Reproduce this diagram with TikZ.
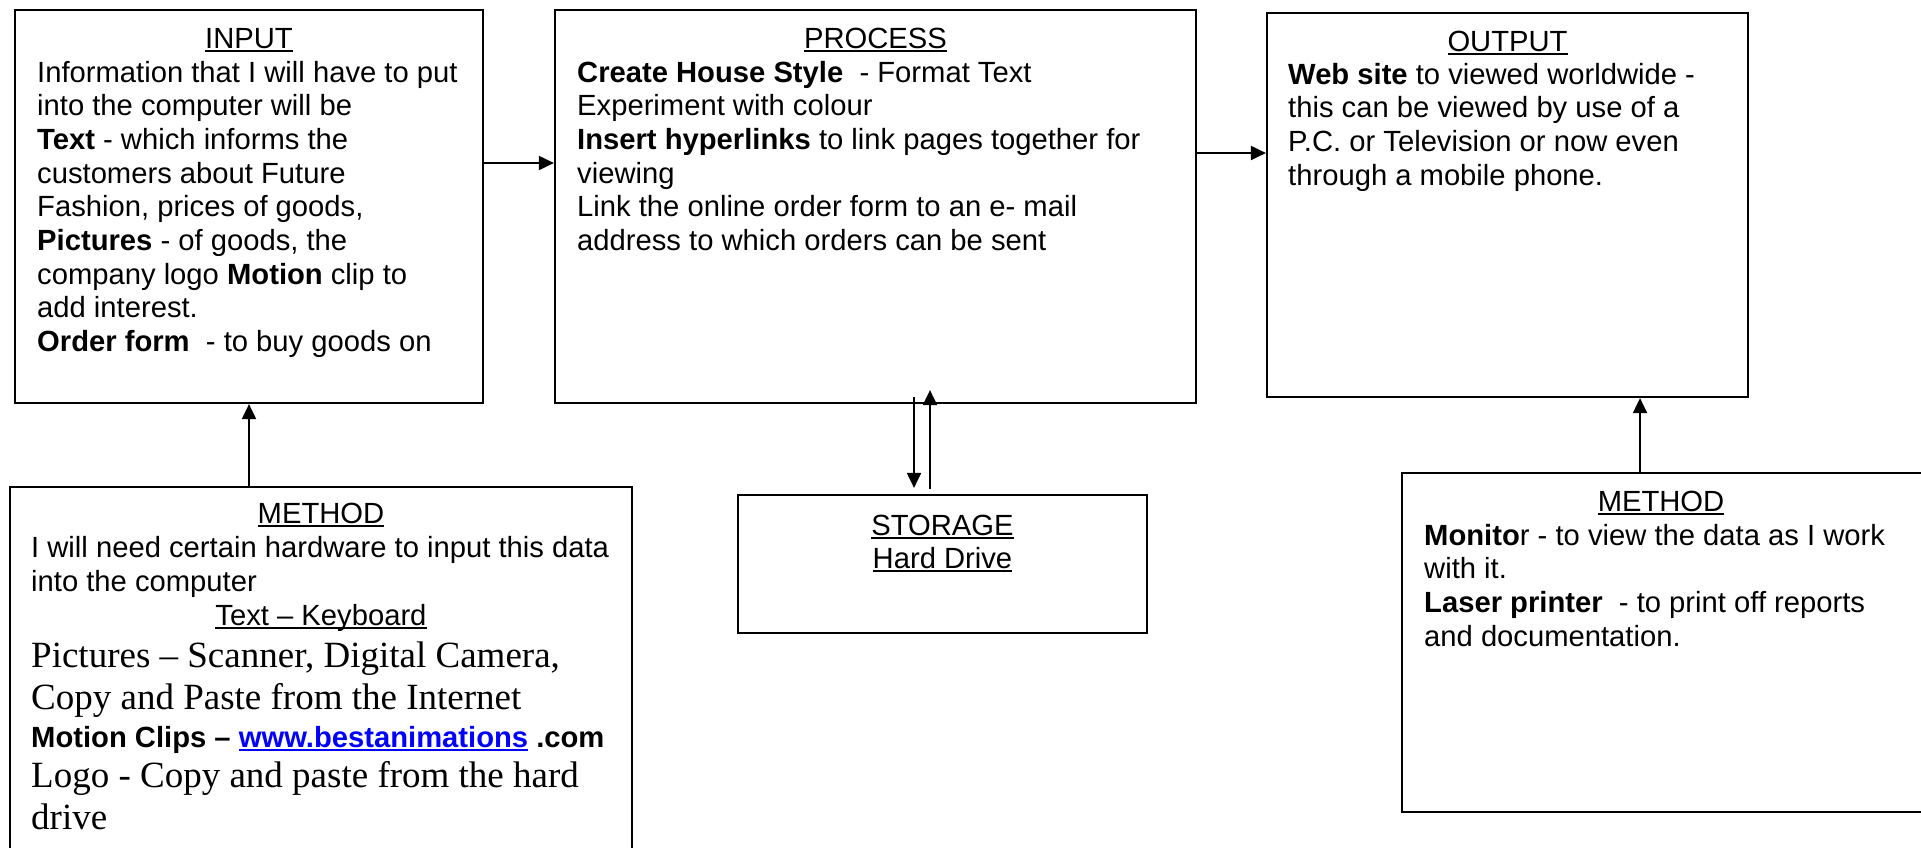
\documentclass[tikz,border=0pt]{standalone}
\usepackage{fontspec}
\usetikzlibrary{arrows.meta}
\newfontfamily\arl{Liberation Sans}
\newfontfamily\tnr{Liberation Serif}
\newcommand\myul[2][black]{\setbox0\hbox{#2}\rlap{\color{#1}\rule[-4.3pt]{\wd0}{2.1pt}}\box0}
\definecolor{linkblue}{RGB}{0,0,255}
\tikzset{
  box/.style={draw, line width=2.2pt, rectangle, inner sep=0pt},
  arr/.style={line width=2pt, -{Triangle[length=15pt,width=14pt]}},
  tl/.style={anchor=base west, inner sep=0pt, font=\arl\fontsize{29.2}{33.7}\selectfont},
  tc/.style={anchor=base, inner sep=0pt, font=\arl\fontsize{29.2}{33.7}\selectfont},
  sl/.style={anchor=base west, inner sep=0pt, font=\tnr\fontsize{37}{42}\selectfont},
}
\begin{document}
\begin{tikzpicture}[x=1pt,y=-1pt]
\useasboundingbox (0,0) rectangle (1921,847);
\clip (0,0) rectangle (1921,847);
\fill[white] (0,0) rectangle (1921,847);

% boxes
\node[box, minimum width=468, minimum height=393] (input) at (249,206.5) {};
\node[box, minimum width=641, minimum height=393] (process) at (875.5,206.5) {};
\node[box, minimum width=481, minimum height=384] (output) at (1507.5,205) {};
\node[box, minimum width=622, minimum height=383] (method1) at (321,678.5) {};
\node[box, minimum width=409, minimum height=138] (storage) at (942.5,564) {};
\node[box, minimum width=522, minimum height=339] (method2) at (1663,642.5) {};

% INPUT text
\node[tc] (ti) at (249,48) {\myul{INPUT}};
\node[tl] (i1) at (37,82) {Information that I will have to put};
\node[tl] (i2) at (37,115.7) {into the computer will be};
\node[tl] (i3) at (37,149.4) {\textbf{Text} - which informs the};
\node[tl] (i4) at (37,183.1) {customers about Future};
\node[tl] (i5) at (37,216.8) {Fashion, prices of goods,};
\node[tl] (i6) at (37,250.5) {\textbf{Pictures} - of goods, the};
\node[tl] (i7) at (37,284.2) {company logo \textbf{Motion} clip to};
\node[tl] (i8) at (37,317.9) {add interest.};
\node[tl] (i9) at (37,351.6) {\textbf{Order form}~~- to buy goods on};

% PROCESS text
\node[tc] (tp) at (875.5,48) {\myul{PROCESS}};
\node[tl] (p1) at (577,82) {\textbf{Create House Style}~~- Format Text};
\node[tl] (p2) at (577,115.7) {Experiment with colour};
\node[tl] (p3) at (577,149.4) {\textbf{Insert hyperlinks} to link pages together for};
\node[tl] (p4) at (577,183.1) {viewing};
\node[tl] (p5) at (577,216.8) {Link the online order form to an e- mail};
\node[tl] (p6) at (577,250.5) {address to which orders can be sent};

% OUTPUT text
\node[tc] (to) at (1507.5,51) {\myul{OUTPUT}};
\node[tl] (o1) at (1288,84) {\textbf{Web site} to viewed worldwide -};
\node[tl] (o2) at (1288,117.7) {this can be viewed by use of a};
\node[tl] (o3) at (1288,151.4) {P.C. or Television or now even};
\node[tl] (o4) at (1288,185.1) {through a mobile phone.};

% METHOD (left) text
\node[tc] (tm1) at (321,523) {\myul{METHOD}};
\node[tl] (m1) at (31,557) {I will need certain hardware to input this data};
\node[tl] (m2) at (31,591) {into the computer};
\node[tc] (m3) at (321,625) {\myul{Text – Keyboard}};
\node[sl] (m4) at (31,667) {Pictures – Scanner, Digital Camera,};
\node[sl] (m5) at (31,709) {Copy and Paste from the Internet};
\node[tl] (m6) at (31,747) {\textbf{Motion Clips – \textcolor{linkblue}{\myul[linkblue]{www.bestanimations}} .com}};
\node[sl] (m7) at (31,787) {Logo - Copy and paste from the hard};
\node[sl] (m8) at (31,829) {drive};

% STORAGE text
\node[tc] (ts) at (942.5,535) {\myul{STORAGE}};
\node[tc] (s1) at (942.5,568) {\myul{Hard Drive}};

% METHOD (right) text
\node[tc] (tm2) at (1661,511) {\myul{METHOD}};
\node[tl] (r1) at (1424,545) {\textbf{Monito}r - to view the data as I work};
\node[tl] (r2) at (1424,578.7) {with it.};
\node[tl] (r3) at (1424,612.4) {\textbf{Laser printer}~~- to print off reports};
\node[tl] (r4) at (1424,646.1) {and documentation.};

% connectors
\draw[arr] ([yshift=43.5pt]input.east) -- ([yshift=43.5pt]process.west);
\coordinate (p2o) at ([yshift=53.5pt]process.east);
\draw[arr] (p2o) -- (p2o -| output.west);
\draw[arr] (input.south |- method1.north) -- (input.south);
\coordinate (o2m) at ([xshift=132.5pt]output.south);
\draw[arr] (o2m |- method2.north) -- (o2m);
\coordinate (dn) at ([xshift=-28.5pt]storage.north);
\coordinate (upc) at ([xshift=-12.5pt]storage.north);
\draw[arr] ([yshift=7pt]dn |- process.south) -- ([yshift=6pt]dn);
\draw[arr] ([yshift=5pt]upc) -- ([yshift=14pt]upc |- process.south);
\end{tikzpicture}
\end{document}
